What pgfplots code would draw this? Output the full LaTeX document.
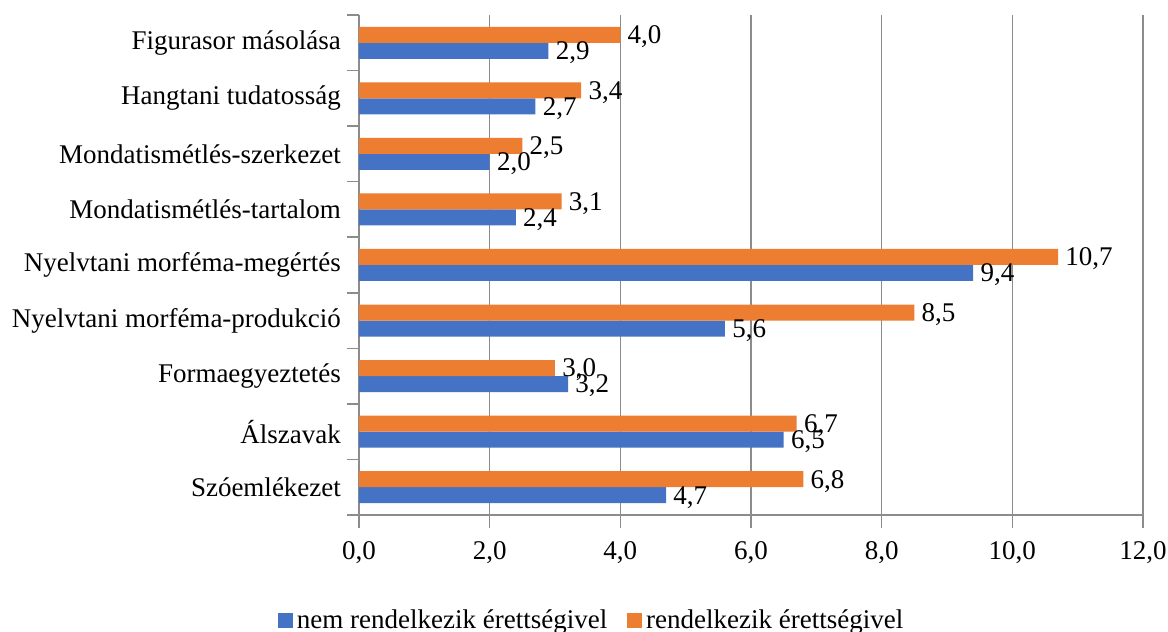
\documentclass[border=0pt]{standalone}
\usepackage{pgfplots}
\pgfplotsset{compat=1.18}
\usepackage{fontspec}
\setmainfont{Liberation Serif}
\definecolor{cblue}{HTML}{4472C4}
\definecolor{corange}{HTML}{ED7D31}
\definecolor{cgrid}{HTML}{8C8C8C}
\begin{document}
\begin{tikzpicture}
\begin{axis}[
  name=ax,
  scale only axis, width=392pt, height=250pt,
  xbar, bar width=8pt,
  xmin=0, xmax=12, ymin=-0.5, ymax=8.5,
  xtick={0,2,...,12},
  ytick={0,...,8},
  yticklabels={Szóemlékezet, Álszavak, Formaegyeztetés, Nyelvtani morféma-produkció, Nyelvtani morféma-megértés, Mondatismétlés-tartalom, Mondatismétlés-szerkezet, Hangtani tudatosság, Figurasor másolása},
  minor ytick={-0.5,0.5,...,8.5},
  axis x line*=bottom, axis y line*=left,
  axis line style={draw=cgrid, line width=0.75pt, -},
  tick align=outside,
  major tick length=6.5pt, minor tick length=6pt,
  xtick style={draw=cgrid, line width=0.75pt},
  ytick style={draw=none},
  minor y tick style={draw=cgrid, line width=0.75pt},
  xmajorgrids, grid style={draw=cgrid, line width=0.75pt},
  tick label style={font=\fontsize{13.5}{15}\selectfont},
  yticklabel style={xshift=1pt},
  xticklabel style={yshift=-3pt},
  /pgf/number format/.cd, use comma, fixed, fixed zerofill, precision=1, assume math mode=true,
  /pgfplots/.cd,
  point meta=x,
  nodes near coords,
  every node near coord/.append style={font=\fontsize{13.5}{15}\selectfont, anchor=west, text=black, inner sep=2.5pt, xshift=1pt, yshift=-1pt},
  legend style={at={(0.298,-0.212)}, anchor=center, legend columns=2, draw=none,
    font=\fontsize{13.5}{15}\selectfont,
    /tikz/every even column/.append style={column sep=8pt}},
  legend image code/.code={\fill[#1] (0pt,-3.75pt) rectangle (7.5pt,3.75pt);},
]
\addplot[fill=cblue, draw=none, bar shift=-4pt] coordinates {
  (4.7,0) (6.5,1) (3.2,2) (5.6,3) (9.4,4) (2.4,5) (2.0,6) (2.7,7) (2.9,8)};
\addplot[fill=corange, draw=none, bar shift=4pt] coordinates {
  (6.8,0) (6.7,1) (3.0,2) (8.5,3) (10.7,4) (3.1,5) (2.5,6) (3.4,7) (4.0,8)};
\legend{nem rendelkezik érettségivel, rendelkezik érettségivel}
\end{axis}
\pgfresetboundingbox
\path (ax.south west) ++(-179.5pt,-58.5pt) coordinate (bl);
\path (ax.north east) ++(12.5pt,7.5pt) coordinate (tr);
\path[use as bounding box] (bl) rectangle (tr);
\end{tikzpicture}
\end{document}
